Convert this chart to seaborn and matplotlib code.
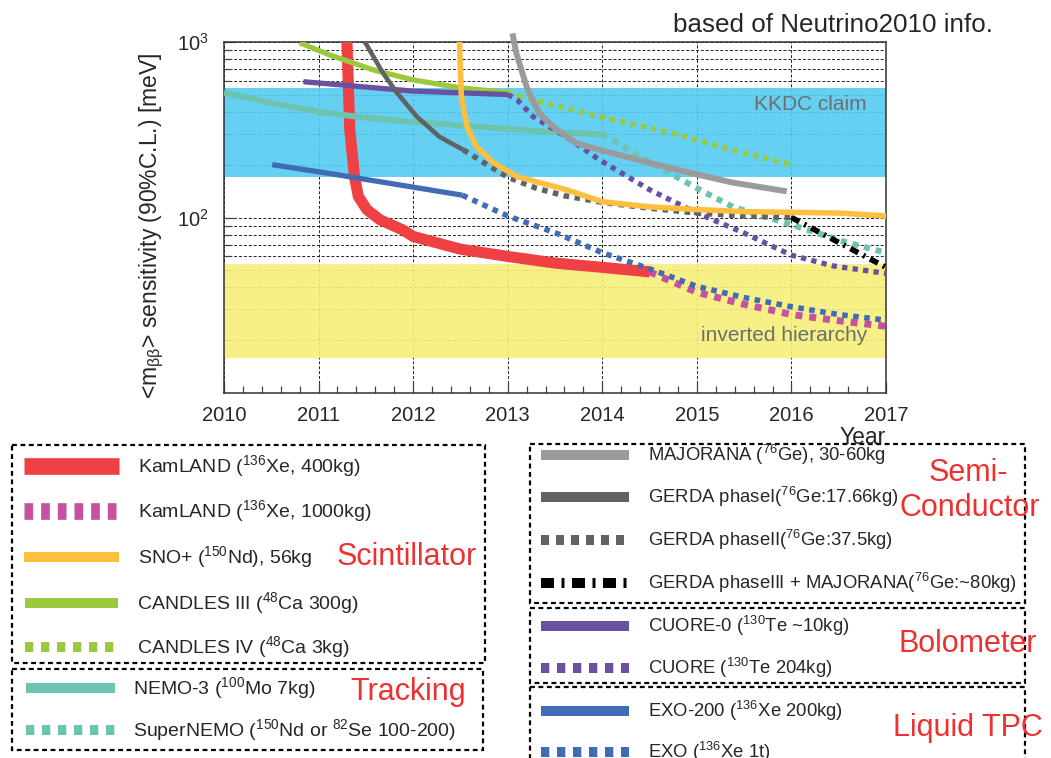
import numpy as np
import pandas as pd
import matplotlib
matplotlib.use("Agg")
import matplotlib.pyplot as plt
import seaborn as sns
from matplotlib.patches import Rectangle
from matplotlib.ticker import FixedLocator, NullFormatter, MultipleLocator

# ---------------- data ----------------
kamland400_year = [2011.30, 2011.33, 2011.38, 2011.42, 2011.51, 2011.65, 2011.89, 2012.0, 2012.5, 2013.0, 2013.5, 2014.0, 2014.5]
kamland400_val = [1000, 316, 171, 132, 111, 97, 85, 78, 66, 60, 55, 52, 49]

kamland1000_year = [2014.5, 2015.0, 2015.5, 2016.0, 2016.5, 2017.0]
kamland1000_val = [49, 37.5, 32, 28, 25.8, 24]

sno_year = [2012.49, 2012.51, 2012.57, 2012.67, 2012.85, 2013.1, 2013.62, 2014.0, 2014.5, 2015.0, 2015.5, 2016.0, 2016.5, 2017.0]
sno_val = [1000, 487, 329, 253, 205, 171, 144, 123, 115, 111, 108, 107, 106, 102]

candles3_year = [2010.80, 2011.12, 2011.58, 2012.0, 2012.5, 2013.0]
candles3_val = [990, 843, 693, 608, 548, 515]

candles4_year = [2013.0, 2013.27, 2013.97, 2014.5, 2015.0, 2015.45, 2016.0]
candles4_val = [515, 468, 375, 325, 277, 237, 200]

nemo3_year = [2010.0, 2010.5, 2011.0, 2011.5, 2012.0, 2012.5, 2013.0, 2013.5, 2014.0]
nemo3_val = [515, 450, 400, 370, 350, 335, 320, 306, 298]

supernemo_year = [2014.0, 2014.08, 2014.33, 2014.68, 2015.03, 2015.38, 2016.0, 2016.55, 2017.0]
supernemo_val = [298, 284, 234, 183, 144, 115, 91, 73, 63]

majorana_year = [2013.05, 2013.09, 2013.2, 2013.33, 2013.48, 2013.72, 2013.97, 2014.5, 2015.0, 2015.38, 2015.95]
majorana_val = [1120, 866, 555, 395, 329, 266, 243, 205, 176, 158, 141]

gerda1_year = [2011.49, 2011.68, 2011.83, 2012.04, 2012.28, 2012.53]
gerda1_val = [1000, 667, 513, 375, 288, 243]

gerda2_year = [2012.53, 2012.75, 2013.0, 2013.3, 2013.6, 2014.0, 2014.5, 2015.0, 2015.5, 2016.0]
gerda2_val = [243, 205, 170, 147, 133, 122, 113, 106, 102, 100]

gerda3_year = [2016.0, 2017.0]
gerda3_val = [100, 52]

cuore0_year = [2010.84, 2012.0, 2013.0]
cuore0_val = [594, 525, 502]

cuore_year = [2013.0, 2013.1, 2013.27, 2013.62, 2013.97, 2014.5, 2015.0, 2015.49, 2016.0, 2016.44, 2017.0]
cuore_val = [502, 468, 375, 288, 213, 144, 106, 82, 61, 53, 48]

exo200_year = [2010.51, 2011.12, 2012.52]
exo200_val = [200, 178, 134]

exo1t_year = [2012.52, 2013.0, 2013.5, 2014.0, 2014.5, 2015.0, 2015.5, 2016.0, 2016.5, 2017.0]
exo1t_val = [134, 102, 82, 63, 51, 40.5, 35, 31, 28, 26]

kkdc_band = [171, 548]
ih_band = [15.8, 54]

year_ticks = [2010, 2011, 2012, 2013, 2014, 2015, 2016, 2017]

# ---------------- style ----------------
sns.set_style("ticks")
plt.rcParams['font.family'] = ['Liberation Sans', 'DejaVu Sans']
plt.rcParams['mathtext.fontset'] = 'custom'
plt.rcParams['mathtext.rm'] = 'Liberation Sans'
plt.rcParams['mathtext.it'] = 'Liberation Sans:italic'
plt.rcParams['mathtext.bf'] = 'Liberation Sans:bold'

RED = '#ef4044'
MAGENTA = '#c6519f'
ORANGE = '#fcbf3f'
GREEN = '#9ac93e'
TEAL = '#6cc4ae'
LGRAY = '#9a9b9d'
DGRAY = '#616264'
PURPLE = '#6951a1'
BLUE = '#3f6cb5'
LABELRED = '#ef3030'

W, H = 1051, 758
fig = plt.figure(figsize=(W / 100, H / 100), dpi=100)
L, R, T, B = 224, 886, 42, 393
ax = fig.add_axes([L / W, 1 - B / H, (R - L) / W, (B - T) / H])

ax.set_yscale('log')
ax.set_xlim(2010, 2017)
ax.set_ylim(10, 1000)

# bands
ax.axhspan(kkdc_band[0], kkdc_band[1], facecolor='#55cbf1', edgecolor='none', alpha=0.9, zorder=1)
ax.axhspan(ih_band[0], ih_band[1], facecolor='#f6ef7a', edgecolor='none', alpha=0.9, zorder=1)
ax.text(2016.8, 440, 'KKDC claim', color='#6d6e71', fontsize=15, ha='right', va='center', zorder=2)
ax.text(2016.8, 21.2, 'inverted hierarchy', color='#6d6e71', fontsize=15, ha='right', va='center', zorder=2)

DOT = (0, (1, 1))

def draw(xs, ys, color, lw, ls='-', z=3, clip=True):
    df = pd.DataFrame({'year': xs, 'val': ys})
    sns.lineplot(data=df, x='year', y='val', ax=ax, color=color, linewidth=lw,
                 linestyle=ls, sort=False, estimator=None, zorder=z,
                 solid_capstyle='butt', dash_capstyle='butt', clip_on=clip)

draw(kamland400_year, kamland400_val, RED, 8.0, z=3)
draw(nemo3_year, nemo3_val, TEAL, 4.3)
draw(supernemo_year, supernemo_val, TEAL, 4.3, DOT)
draw(candles3_year, candles3_val, GREEN, 3.8)
draw(candles4_year, candles4_val, GREEN, 3.8, DOT)
draw(cuore0_year, cuore0_val, PURPLE, 3.8)
draw(cuore_year, cuore_val, PURPLE, 3.8, DOT)
draw(gerda1_year, gerda1_val, DGRAY, 3.3)
draw(gerda2_year, gerda2_val, DGRAY, 4.0, DOT)
draw(gerda3_year, gerda3_val, 'black', 4.0, (0, (1.6, 1.0, 0.4, 1.0)))
draw(majorana_year, majorana_val, LGRAY, 4.3, clip=False)
draw(sno_year, sno_val, ORANGE, 4.0)
draw(exo200_year, exo200_val, BLUE, 3.8)
draw(kamland1000_year, kamland1000_val, MAGENTA, 5.0, DOT)
draw(exo1t_year, exo1t_val, BLUE, 4.0, DOT, z=4)

ax.set_xlabel('')
ax.set_ylabel('<m$_{\\mathrm{ββ}}$> sensitivity (90%C.L.) [meV]', fontsize=16.5)
ax.yaxis.set_label_coords(-0.088, 0.476)

# ticks
ax.xaxis.set_major_locator(FixedLocator(year_ticks))
ax.set_xticklabels([str(y) for y in year_ticks])
ax.xaxis.set_minor_locator(MultipleLocator(0.2))
ax.yaxis.set_major_locator(FixedLocator([100, 1000]))
ax.set_yticklabels(['$10^{2}$', '$10^{3}$'])
ax.yaxis.set_minor_locator(FixedLocator([20, 30, 40, 50, 60, 70, 80, 90, 200, 300, 400, 500, 600, 700, 800, 900]))
ax.yaxis.set_minor_formatter(NullFormatter())
ax.tick_params(axis='both', which='major', direction='in', length=8, width=0.9, color='#444444',
               labelsize=14.5, pad=9)
ax.tick_params(axis='both', which='minor', direction='in', length=5, width=0.9, color='#444444')
ax.tick_params(axis='y', which='major', pad=11)
for s in ax.spines.values():
    s.set_linewidth(1.1)
    s.set_color('#333333')

ax.grid(True, which='major', axis='x', color='#222222', linestyle=(0, (3, 2)), linewidth=0.7)
ax.grid(True, which='both', axis='y', color='#222222', linestyle=(0, (3, 2)), linewidth=0.7)
ax.set_axisbelow(True)

# ---------------- overlay for texts and grouped legend ----------------
lax = fig.add_axes([0, 0, 1, 1], zorder=5)
lax.set_xlim(0, W)
lax.set_ylim(H, 0)
lax.axis('off')

lax.text(673, 25, 'based of Neutrino2010 info.', fontsize=18.7, ha='left', va='center')
lax.text(886, 438, 'Year', fontsize=16.5, ha='right', va='center')

def box(x0, y0, x1, y1):
    lax.add_patch(Rectangle((x0, y0), x1 - x0, y1 - y0, fill=False, edgecolor='black',
                            linewidth=1.6, linestyle=(0, (2.2, 1.6)), clip_on=False))

box(12, 445, 485, 663)
box(12, 669, 483, 750)
box(530, 444, 1025, 603)
box(530, 608, 1025, 683)
box(530, 687, 1025, 770)

def sample(x0, x1, y, color, lw, ls='-'):
    lax.plot([x0, x1], [y, y], color=color, linewidth=lw, linestyle=ls,
             solid_capstyle='butt', dash_capstyle='butt')

LFS = 14
RFS = 13.3
left_entries = [
    (466, RED, 12, '-', 'KamLAND ($^{136}$Xe, 400kg)', 24, 119, 138),
    (511, MAGENTA, 12, (0, (0.52, 0.48)), 'KamLAND ($^{136}$Xe, 1000kg)', 24, 119, 138),
    (557, ORANGE, 7.2, '-', 'SNO+ ($^{150}$Nd), 56kg', 24, 119, 138),
    (603, GREEN, 7.2, '-', 'CANDLES III ($^{48}$Ca 300g)', 25, 118, 137),
    (647, GREEN, 7.2, (0, (0.83, 0.77)), 'CANDLES IV ($^{48}$Ca 3kg)', 25, 118, 137),
    (688, TEAL, 7.2, '-', 'NEMO-3 ($^{100}$Mo 7kg)', 26, 115, 133),
    (730, TEAL, 7.2, (0, (0.83, 0.77)), 'SuperNEMO ($^{150}$Nd or $^{82}$Se 100-200)', 26, 115, 133),
]
right_entries = [
    (455, LGRAY, 7.2, '-', 'MAJORANA ($^{76}$Ge), 30-60kg'),
    (497, DGRAY, 7.2, '-', 'GERDA phaseI($^{76}$Ge:17.66kg)'),
    (540, DGRAY, 7.2, (0, (0.8, 0.7)), 'GERDA phaseII($^{76}$Ge:37.5kg)'),
    (583, 'black', 7.2, (0, (1.3, 0.75, 0.3, 0.75)), 'GERDA phaseIII + MAJORANA($^{76}$Ge:~80kg)'),
    (626, PURPLE, 7.2, '-', 'CUORE-0 ($^{130}$Te ~10kg)'),
    (668, PURPLE, 7.2, (0, (0.83, 0.77)), 'CUORE ($^{130}$Te 204kg)'),
    (711, BLUE, 7.2, '-', 'EXO-200 ($^{136}$Xe 200kg)'),
    (752, BLUE, 7.2, (0, (0.83, 0.77)), 'EXO ($^{136}$Xe 1t)'),
]
for y, c, lw, ls, lab, x0, x1, tx in left_entries:
    sample(x0, x1, y, c, lw, ls)
    lax.text(tx, y, lab, fontsize=LFS, ha='left', va='center')
for y, c, lw, ls, lab in right_entries:
    sample(541, 629, y, c, lw, ls)
    lax.text(648, y, lab, fontsize=RFS, ha='left', va='center')

GFS = 22
lax.text(407, 557, 'Scintillator', color=LABELRED, fontsize=GFS, ha='center', va='center')
lax.text(408, 692, 'Tracking', color=LABELRED, fontsize=GFS, ha='center', va='center')
lax.text(968, 473, 'Semi-', color=LABELRED, fontsize=GFS, ha='center', va='center')
lax.text(970, 508, 'Conductor', color=LABELRED, fontsize=GFS, ha='center', va='center')
lax.text(968, 644, 'Bolometer', color=LABELRED, fontsize=GFS, ha='center', va='center')
lax.text(968, 728, 'Liquid TPC', color=LABELRED, fontsize=GFS, ha='center', va='center')

fig.savefig('out.png', dpi=100)
